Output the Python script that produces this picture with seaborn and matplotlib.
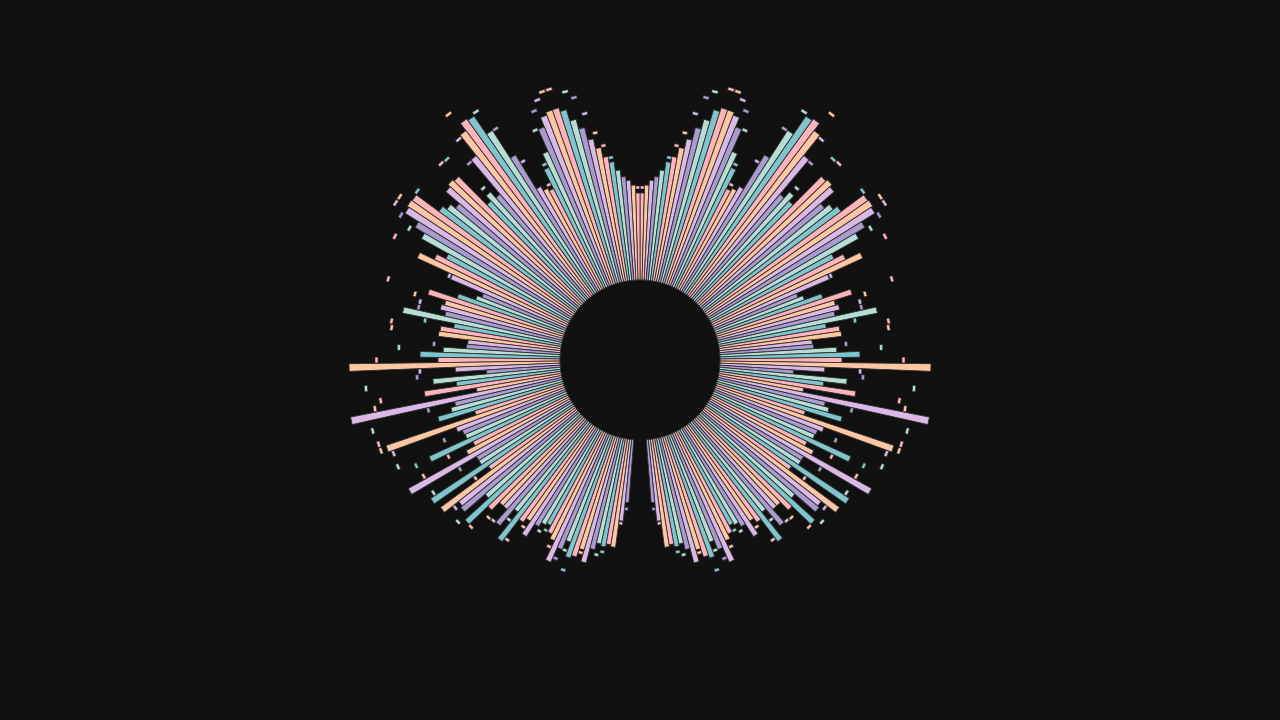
import numpy as np
import pandas as pd
import matplotlib
matplotlib.use("Agg")
import matplotlib.pyplot as plt
import seaborn as sns

# one half of the mirrored radial chart, read from the top (0 deg) clockwise
# values are outer radius of each bar (inner ring sits at 80)
bar_radius = [167, 175, 180, 184, 191, 200, 206, 216, 226, 239,
              249, 261, 265, 265, 262, 252, 228, 213, 192, 195,
              200, 240, 273, 295, 297, 288, 262, 217, 225, 218,
              258, 260, 257, 239, 245, 250, 278, 279, 277, 261,
              250, 219, 229, 245, 206, 170, 175, 193, 222, 203,
              206, 200, 242, 189, 202, 203, 173, 174, 197, 220,
              202, 291, 185, 154, 208, 185, 218, 166, 295, 190,
              195, 210, 173, 268, 196, 191, 190, 232, 186, 196,
              265, 190, 190, 251, 185, 248, 230, 232, 205, 237,
              211, 200, 200, 217, 195, 228, 200, 195, 210, 195,
              190, 188, 195, 200, 221, 205, 195, 210, 207, 198,
              210, 195, 188, 190, 187, 189, 162, 143]

# small marker ticks sitting outside the bars (nan = none visible)
nan = np.nan
cap_radius = [171, nan, nan, nan, nan, 203, 216, 230, 251, 269,
              277, nan, 284, 284, 278, 269, 251, 216, 196, nan,
              229, 271, 296, nan, nan, 310, 284, 259, 231, 277,
              278, nan, nan, nan, nan, 278, nan, 289, 289, 278,
              264, nan, 273, nan, 207, nan, nan, nan, 263, 233,
              226, 226, nan, 217, 250, 249, nan, 205, 240, nan,
              262, nan, 219, 222, 274, nan, 261, 268, nan, 216,
              275, nan, 273, 273, 262, 210, 263, 246, 213, 244,
              nan, 209, 244, nan, 201, nan, 235, nan, 242, nan,
              236, 217, 216, nan, 205, nan, 222, 202, nan, nan,
              197, 193, nan, 206, nan, 214, 203, 222, nan, 200,
              nan, nan, 198, 194, nan, nan, 163, 148]

colors = ["#FFB4B9", "#FFC6A2", "#DAB9E6", "#A99BCD", "#B6DED4", "#80C4CE"]

inner = 80
step = 2 * np.pi / 242

sns.set_theme(style="dark", rc={"figure.facecolor": "#111111",
                                "axes.facecolor": "#111111"})
palette = sns.color_palette(colors)

n = len(bar_radius)
idx = np.arange(n)
half = pd.DataFrame({"i": idx,
                     "r": bar_radius,
                     "cap": cap_radius,
                     "color": [palette[k % 6] for k in idx]})
half["theta"] = (half["i"] + 0.5) * step
other = half.copy()
other["theta"] = -other["theta"]
df = pd.concat([half, other], ignore_index=True)

fig = plt.figure(figsize=(12.8, 7.2), dpi=100, facecolor="#111111")
rmax = 340
ax = fig.add_axes([(640 - rmax) / 1280, (360 - rmax) / 720,
                   2 * rmax / 1280, 2 * rmax / 720], projection="polar")
ax.set_facecolor("#111111")
ax.set_theta_zero_location("N")
ax.set_theta_direction(-1)

ax.bar(df["theta"], df["r"] - inner, bottom=inner, width=step,
       color=df["color"], edgecolor="#2e2e2e", linewidth=0.6, align="center")

caps = df.dropna(subset=["cap"])
ax.bar(caps["theta"], 3, bottom=caps["cap"], width=step * 0.85,
       color=caps["color"], edgecolor="#2e2e2e", linewidth=0.4, align="center")

ax.set_ylim(0, rmax)
ax.set_xticks([])
ax.set_yticks([])
ax.grid(False)
ax.spines["polar"].set_visible(False)

fig.savefig("out.png", dpi=100, facecolor="#111111")
